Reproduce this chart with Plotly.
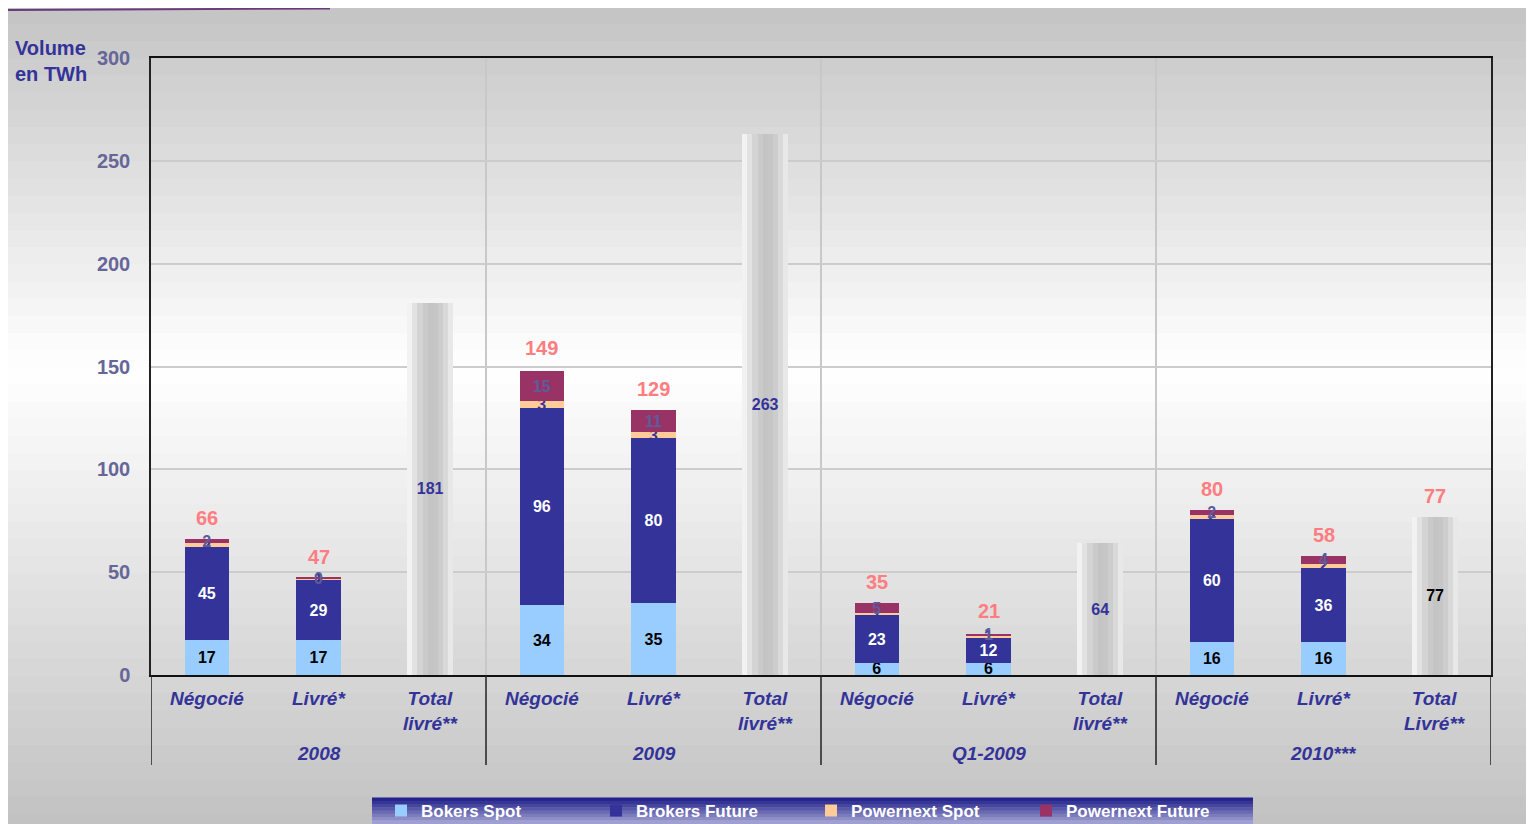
import plotly.graph_objects as go

# ---------------- data ----------------
groups = ["2008", "2009", "Q1-2009", "2010***"]
subcats = ["Négocié", "Livré*", "Total<br>livré**",
           "Négocié", "Livré*", "Total<br>livré**",
           "Négocié", "Livré*", "Total<br>livré**",
           "Négocié", "Livré*", "Total<br>Livré**"]

stack_pos = [0, 1, 3, 4, 6, 7, 9, 10]
bokers_spot = [17, 17, 34, 35, 6, 6, 16, 16]
brokers_future = [45, 29, 96, 80, 23, 12, 60, 36]
powernext_spot = [2, 1, 3, 3, 1, 1, 2, 2]
powernext_future = [2, 0.4, 15, 11, 5, 1, 2, 4]
stack_total_labels = [66, 47, 149, 129, 35, 21, 80, 58]

total_pos = [2, 5, 8, 11]
total_livre = [181, 263, 64, 77]
total_label_colors = ["#333399", "#333399", "#333399", "#000000"]
pink_total_pos = [11]
pink_total_vals = [77]

yticks = [0, 50, 100, 150, 200, 250, 300]

# ---------------- styles ----------------
C_SPOT = "#99ccff"
C_FUT = "#333399"
C_PSPOT = "#ffcc99"
C_PFUT = "#993366"
NAVY = "#333399"
FONT = "Liberation Sans"

OFF = 8                      # page body margin
W, H = 1534, 824
L, T = 151 - OFF, 58 - OFF
R = W - (1491 - OFF)
B = H - (675 - OFF)
PW, PH = W - L - R, H - T - B


def px_x(px):                # page px -> paper x
    return (px - OFF - L) / PW


def px_y(py):                # page px -> paper y
    return (H - B - (py - OFF)) / PH


def cx(px):                  # page px -> container x
    return (px - OFF) / W


def cy(py):                  # page px -> container y
    return 1 - (py - OFF) / H


fig = go.Figure()

bw = 0.40
seg_font = dict(family=FONT, size=16, weight="bold")
for name, vals, col, tcol in [
    ("Bokers Spot", bokers_spot, C_SPOT, "#000000"),
    ("Brokers Future", brokers_future, C_FUT, "#ffffff"),
    ("Powernext Spot", powernext_spot, C_PSPOT, "#333399"),
    ("Powernext Future", powernext_future, C_PFUT, "#5c5c9c"),
]:
    fig.add_trace(go.Bar(
        x=stack_pos, y=vals, name=name, width=bw,
        marker=dict(color=col, line=dict(width=0)),
        texttemplate="%{y:.0f}", textposition="inside", textangle=0,
        insidetextanchor="middle", constraintext="none",
        textfont=dict(color=tcol, **seg_font),
        hoverinfo="skip",
    ))

# total bars (gradient approximated by vertical slices)
tw = 0.41
slice_cols = ["#f2f2f2", "#e2e2e2", "#d4d4d4", "#cacaca", "#c4c4c4",
              "#c6c6c6", "#cdcdcd", "#d9d9d9", "#e8e8e8"]
n = len(slice_cols)
for i, c in enumerate(slice_cols):
    fig.add_trace(go.Bar(
        x=total_pos, y=total_livre, base=[0] * len(total_pos),
        width=tw / n, offset=-tw / 2 + i * tw / n,
        marker=dict(color=c, line=dict(width=0)),
        showlegend=False, hoverinfo="skip",
    ))
fig.add_trace(go.Bar(
    x=total_pos, y=total_livre, base=[0] * len(total_pos), width=tw,
    marker=dict(color="rgba(0,0,0,0)", line=dict(width=0)),
    texttemplate="%{y}", textposition="inside", insidetextanchor="middle",
    textangle=0,
    textfont=dict(color=total_label_colors, **seg_font),
    showlegend=False, hoverinfo="skip",
))

shapes = []
annotations = []


def lerp(a, b, t):
    return int(round(a + (b - a) * t))


# background vertical gradient (gray -> white -> gray)
nb = 48
for i in range(nb):
    y0p = OFF + i * H / nb
    y1p = OFF + (i + 1) * H / nb
    mid = (y0p + y1p) / 2
    if mid < 370:
        v = lerp(0xc4, 0xff, max(0.0, (mid - OFF) / (370 - OFF)))
    else:
        v = lerp(0xff, 0xc2, (mid - 370) / (824 - 370))
    shapes.append(dict(type="rect", xref="paper", yref="paper", layer="below",
                       x0=px_x(OFF), x1=px_x(OFF + W), y0=px_y(y1p), y1=px_y(y0p) + 0.002,
                       line=dict(width=0), fillcolor=f"rgb({v},{v},{v})"))
shapes.append(dict(type="line", xref="paper", yref="paper", layer="below",
                   x0=px_x(OFF), x1=px_x(330), y0=px_y(10), y1=px_y(8.5),
                   line=dict(width=2, color="#6a3a7a")))

# group separators inside plot
for xb in [2.5, 5.5, 8.5]:
    shapes.append(dict(type="line", xref="x", yref="paper", layer="below",
                       x0=xb, x1=xb, y0=0, y1=1,
                       line=dict(width=2, color="#c8c8c8")))
# black dividers below axis
for xb in [-0.5, 2.5, 5.5, 8.5, 11.5]:
    shapes.append(dict(type="line", xref="x", yref="paper", layer="above",
                       x0=xb, x1=xb, y0=0, y1=px_y(765),
                       line=dict(width=1.5, color="#222222")))

# legend background gradient
lx0, lx1, ly0, ly1 = 372, 1253, 798, 824
nl = 8
for i in range(nl):
    t = (i + 0.5) / nl
    r = lerp(0x1a, 0xa8, t)
    g = lerp(0x1a, 0xa8, t)
    b_ = lerp(0x86, 0xd6, t)
    a0 = ly0 + i * (ly1 - ly0) / nl
    a1 = ly0 + (i + 1) * (ly1 - ly0) / nl
    shapes.append(dict(type="rect", xref="paper", yref="paper", layer="below",
                       x0=px_x(lx0), x1=px_x(lx1), y0=px_y(a1), y1=px_y(a0) + 0.001,
                       line=dict(width=0), fillcolor=f"rgb({r},{g},{b_})"))

lab_font = dict(family=FONT, size=19, color=NAVY, weight="bold", style="italic")
# category labels
for i, s in enumerate(subcats):
    annotations.append(dict(x=i, xref="x", y=px_y(686), yref="paper",
                            text=s, showarrow=False, xanchor="center", yanchor="top",
                            font=lab_font))
for gi, g in enumerate(groups):
    annotations.append(dict(x=gi * 3 + 1, xref="x", y=px_y(753), yref="paper",
                            text=g, showarrow=False, xanchor="center", yanchor="middle",
                            font=lab_font))

# pink totals
for xp, v in list(zip(stack_pos, stack_total_labels)) + list(zip(pink_total_pos, pink_total_vals)):
    annotations.append(dict(x=xp, y=v, xref="x", yref="y", text=str(v),
                            showarrow=False, xanchor="center", yanchor="bottom", yshift=8,
                            font=dict(family=FONT, size=20, color="#ff7c80", weight="bold")))

# y-axis title
annotations.append(dict(x=px_x(13), y=px_y(35), xref="paper", yref="paper",
                        text="Volume<br>en TWh", showarrow=False, align="left",
                        xanchor="left", yanchor="top",
                        font=dict(family=FONT, size=20, color=NAVY, weight="bold")))

fig.update_layout(
    width=W, height=H, autosize=False,
    margin=dict(l=L, r=R, t=T, b=B, pad=0),
    barmode="stack",
    paper_bgcolor="#c4c4c4",
    plot_bgcolor="#ffffff",
    shapes=shapes,
    annotations=annotations,
    uniformtext=dict(minsize=16, mode="show"),
    showlegend=True,
    legend=dict(orientation="h", xref="container", yref="container",
                x=cx(381), xanchor="left", y=cy(811), yanchor="middle",
                bgcolor="rgba(0,0,0,0)", traceorder="normal",
                font=dict(family=FONT, size=17, color="#ffffff", weight="bold"),
                entrywidth=170, entrywidthmode="pixels", itemwidth=30),
    xaxis=dict(range=[-0.5, 11.5], showticklabels=False, showgrid=False,
               zeroline=False, showline=True, linecolor="#111111", linewidth=1.5,
               mirror=True, ticks=""),
    yaxis=dict(range=[0, 300], tickvals=yticks, showgrid=True,
               gridcolor="#cccccc", gridwidth=2, zeroline=False,
               showline=True, linecolor="#222222", linewidth=1.5, mirror=True,
               ticks="", ticklabelstandoff=15,
               tickfont=dict(family=FONT, size=20, color="#666699", weight="bold")),
)

fig.write_html("out.html")
